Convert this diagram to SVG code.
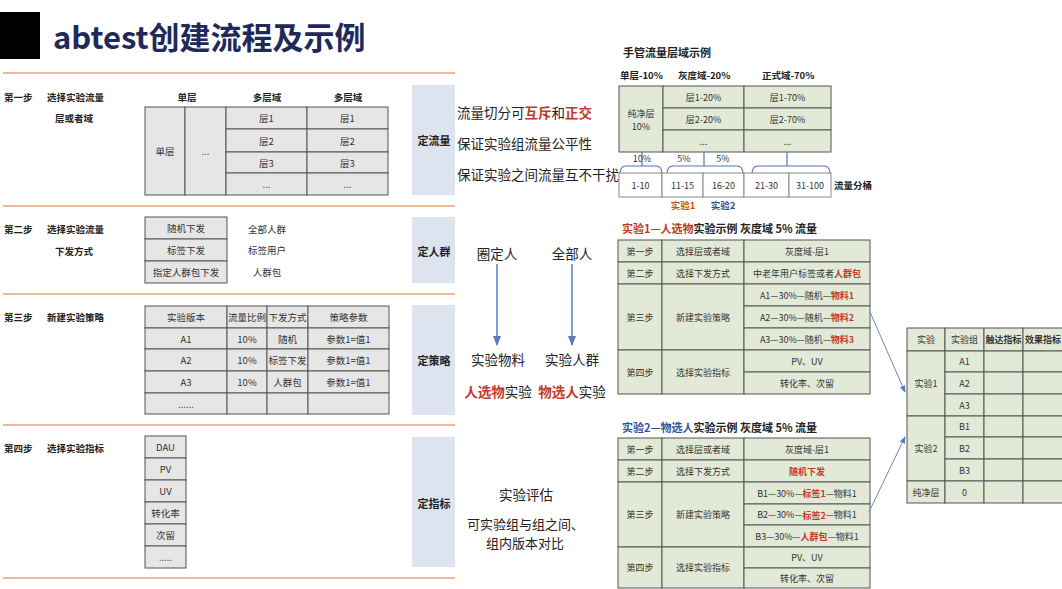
<svg xmlns="http://www.w3.org/2000/svg" width="1062" height="589" viewBox="0 0 1062 589">
<defs>
<style>
text{font-family:"Noto Sans CJK SC","Liberation Sans",sans-serif;dominant-baseline:central}
.c{font-size:9.5px;fill:#333;text-anchor:middle}
.s{font-size:9.5px;fill:#222;font-weight:bold}
.sm{font-size:9.5px;fill:#222;font-weight:bold;text-anchor:middle}
.r{font-size:9px;fill:#333;text-anchor:middle}
.g{fill:#e6e6e6;stroke:#555;stroke-width:1}
.gn{fill:#e2e9d7;stroke:#555;stroke-width:1}
.w{fill:#fff;stroke:#888;stroke-width:1}
.lb{fill:#dde3ef}
.lt{font-size:11px;font-weight:bold;fill:#222;text-anchor:middle}
.m{font-size:13.5px;fill:#222}
.mm{font-size:13.5px;fill:#222;text-anchor:middle}
.red{fill:#c0392b;font-weight:bold}
.hd{font-size:11px;font-weight:bold;fill:#222}
.or{stroke:#e9a27c;stroke-width:1.5}
.br{fill:none;stroke:#5674b4;stroke-width:1.2}
.cn{stroke:#6f86bf;stroke-width:1;fill:none}
</style>
<marker id="ah" viewBox="0 0 10 10" refX="9" refY="5" markerWidth="7" markerHeight="7" orient="auto-start-reverse">
<path d="M0,1 L10,5 L0,9 z" fill="#5b7bbd"/>
</marker>
</defs>
<rect width="1062" height="589" fill="#fff"/>

<g id="title">
<rect x="0" y="12" width="40" height="47" fill="#000"/>
<text x="53" y="35" style="font-size:31px;font-weight:bold;fill:#1f2a5a">abtest创建流程及示例</text>
</g>

<g id="separators">
<line class="or" x1="3" y1="73" x2="455" y2="73"/>
<line class="or" x1="3" y1="206" x2="455" y2="206"/>
<line class="or" x1="3" y1="294" x2="455" y2="294"/>
<line class="or" x1="3" y1="425" x2="455" y2="425"/>
<line class="or" x1="3" y1="578" x2="455" y2="578"/>
</g>

<g id="step1">
<text class="s" x="4" y="97">第一步</text>
<text class="s" x="47" y="97">选择实验流量</text>
<text class="s" x="55" y="118">层或者域</text>
<text class="sm" x="187" y="97">单层</text>
<text class="sm" x="267" y="97">多层域</text>
<text class="sm" x="348" y="97">多层域</text>
<rect class="g" x="145" y="107" width="40" height="88"/>
<rect class="g" x="185" y="107" width="41" height="88"/>
<rect class="g" x="226" y="107" width="81" height="22"/>
<rect class="g" x="226" y="129" width="81" height="23"/>
<rect class="g" x="226" y="152" width="81" height="21"/>
<rect class="g" x="226" y="173" width="81" height="22"/>
<rect class="g" x="307" y="107" width="81" height="22"/>
<rect class="g" x="307" y="129" width="81" height="23"/>
<rect class="g" x="307" y="152" width="81" height="21"/>
<rect class="g" x="307" y="173" width="81" height="22"/>
<text class="c" x="165" y="151">单层</text>
<text class="c" x="205.5" y="151">...</text>
<text class="c" x="266.5" y="118">层1</text>
<text class="c" x="266.5" y="140.5">层2</text>
<text class="c" x="266.5" y="162.5">层3</text>
<text class="c" x="266.5" y="184">...</text>
<text class="c" x="347.5" y="118">层1</text>
<text class="c" x="347.5" y="140.5">层2</text>
<text class="c" x="347.5" y="162.5">层3</text>
<text class="c" x="347.5" y="184">...</text>
</g>

<g id="step2">
<text class="s" x="4" y="229">第二步</text>
<text class="s" x="47" y="229">选择实验流量</text>
<text class="s" x="55" y="251">下发方式</text>
<rect class="g" x="145" y="217" width="82" height="22"/>
<rect class="g" x="145" y="239" width="82" height="22"/>
<rect class="g" x="145" y="261" width="82" height="22"/>
<text class="c" x="186" y="228">随机下发</text>
<text class="c" x="186" y="250">标签下发</text>
<text class="c" x="186" y="272">指定人群包下发</text>
<text class="c" x="267" y="229">全部人群</text>
<text class="c" x="267" y="250">标签用户</text>
<text class="c" x="267" y="272">人群包</text>
</g>

<g id="step3">
<text class="s" x="4" y="317">第三步</text>
<text class="s" x="47" y="317">新建实验策略</text>
<rect class="g" x="145" y="306" width="82" height="22"/><rect class="g" x="227" y="306" width="40" height="22"/><rect class="g" x="267" y="306" width="41" height="22"/><rect class="g" x="308" y="306" width="81" height="22"/>
<rect class="g" x="145" y="328" width="82" height="21"/><rect class="g" x="227" y="328" width="40" height="21"/><rect class="g" x="267" y="328" width="41" height="21"/><rect class="g" x="308" y="328" width="81" height="21"/>
<rect class="g" x="145" y="349" width="82" height="22"/><rect class="g" x="227" y="349" width="40" height="22"/><rect class="g" x="267" y="349" width="41" height="22"/><rect class="g" x="308" y="349" width="81" height="22"/>
<rect class="g" x="145" y="371" width="82" height="22"/><rect class="g" x="227" y="371" width="40" height="22"/><rect class="g" x="267" y="371" width="41" height="22"/><rect class="g" x="308" y="371" width="81" height="22"/>
<rect class="g" x="145" y="393" width="82" height="21"/><rect class="g" x="227" y="393" width="40" height="21"/><rect class="g" x="267" y="393" width="41" height="21"/><rect class="g" x="308" y="393" width="81" height="21"/>
<text class="c" x="186" y="317">实验版本</text><text class="c" x="247" y="317">流量比例</text><text class="c" x="287.5" y="317">下发方式</text><text class="c" x="348.5" y="317">策略参数</text>
<text class="c" x="186" y="338.5">A1</text><text class="c" x="247" y="338.5">10%</text><text class="c" x="287.5" y="338.5">随机</text><text class="c" x="348.5" y="338.5">参数1=值1</text>
<text class="c" x="186" y="360">A2</text><text class="c" x="247" y="360">10%</text><text class="c" x="287.5" y="360">标签下发</text><text class="c" x="348.5" y="360">参数1=值1</text>
<text class="c" x="186" y="382">A3</text><text class="c" x="247" y="382">10%</text><text class="c" x="287.5" y="382">人群包</text><text class="c" x="348.5" y="382">参数1=值1</text>
<text class="c" x="186" y="403.5">......</text>
</g>

<g id="step4">
<text class="s" x="4" y="448">第四步</text>
<text class="s" x="47" y="448">选择实验指标</text>
<rect class="g" x="145" y="436" width="41" height="22"/>
<rect class="g" x="145" y="458" width="41" height="22"/>
<rect class="g" x="145" y="480" width="41" height="22"/>
<rect class="g" x="145" y="502" width="41" height="22"/>
<rect class="g" x="145" y="524" width="41" height="22"/>
<rect class="g" x="145" y="546" width="41" height="22"/>
<text class="c" x="165.5" y="447">DAU</text>
<text class="c" x="165.5" y="469">PV</text>
<text class="c" x="165.5" y="491">UV</text>
<text class="c" x="165.5" y="513">转化率</text>
<text class="c" x="165.5" y="535">次留</text>
<text class="c" x="165.5" y="557">.....</text>
</g>

<g id="label-liuliang">
<rect class="lb" x="412" y="85" width="43" height="110"/>
<text class="lt" x="434" y="140">定流量</text>
</g>
<g id="label-renqun">
<rect class="lb" x="412" y="217" width="43" height="66"/>
<text class="lt" x="434" y="251">定人群</text>
</g>
<g id="label-celue">
<rect class="lb" x="412" y="305" width="43" height="110"/>
<text class="lt" x="434" y="360">定策略</text>
</g>
<g id="label-zhibiao">
<rect class="lb" x="412" y="437" width="43" height="130"/>
<text class="lt" x="434" y="503">定指标</text>
</g>

<g id="notes-liuliang">
<text class="m" x="457" y="112">流量切分可<tspan class="red">互斥</tspan>和<tspan class="red">正交</tspan></text>
<text class="m" x="457" y="143">保证实验组流量公平性</text>
<text class="m" x="457" y="174">保证实验之间流量互不干扰</text>
</g>

<g id="node-quanding"><text class="mm" x="497" y="253">圈定人</text></g>
<g id="node-quanbu"><text class="mm" x="572" y="253">全部人</text></g>
<g id="node-wuliao"><text class="mm" x="498" y="359">实验物料</text>
<text class="mm" x="498" y="391"><tspan class="red">人选物</tspan>实验</text></g>
<g id="node-renqun"><text class="mm" x="572" y="359">实验人群</text>
<text class="mm" x="572" y="391"><tspan class="red">物选人</tspan>实验</text></g>

<g id="notes-zhibiao">
<text class="mm" x="526" y="494">实验评估</text>
<text style="font-size:13px;fill:#222" x="467" y="523">可实验组与组之间、</text>
<text style="font-size:13px;fill:#222" x="486" y="542">组内版本对比</text>
</g>

<g id="layer-example">
<text class="hd" x="623" y="52">手管流量层域示例</text>
<text class="s" x="620" y="75">单层-10%</text>
<text class="s" x="678" y="75">灰度域-20%</text>
<text class="s" x="762" y="75">正式域-70%</text>
<rect class="gn" x="619" y="86" width="44" height="66"/>
<rect class="gn" x="663" y="86" width="81" height="22"/>
<rect class="gn" x="663" y="108" width="81" height="22"/>
<rect class="gn" x="663" y="130" width="81" height="22"/>
<rect class="gn" x="744" y="86" width="87" height="22"/>
<rect class="gn" x="744" y="108" width="87" height="22"/>
<rect class="gn" x="744" y="130" width="87" height="22"/>
<text class="r" x="641" y="113">纯净层</text>
<text class="r" x="641" y="126">10%</text>
<text class="r" x="703.5" y="97">层1-20%</text>
<text class="r" x="703.5" y="119">层2-20%</text>
<text class="r" x="703.5" y="141">...</text>
<text class="r" x="787.5" y="97">层1-70%</text>
<text class="r" x="787.5" y="119">层2-70%</text>
<text class="r" x="787.5" y="141">...</text>
<text class="r" x="642" y="158">10%</text>
<text class="r" x="684" y="158">5%</text>
<text class="r" x="723" y="158">5%</text>
<path class="br" d="M620,174 Q620,166 626,166 L656,166 Q662,166 662,174 M642,166 L642,152"/>
<path class="br" d="M667,174 Q667,166 673,166 L737,166 Q743,166 743,174 M704,166 L704,152"/>
<path class="br" d="M752,174 Q752,166 758,166 L824,166 Q830,166 830,174 M787,166 L787,152"/>
<rect class="w" x="619" y="173" width="43" height="24"/>
<rect class="w" x="662" y="173" width="41" height="24"/>
<rect class="w" x="703" y="173" width="41" height="24"/>
<rect class="w" x="744" y="173" width="45" height="24"/>
<rect class="w" x="789" y="173" width="42" height="24"/>
<text class="r" x="640.5" y="185">1-10</text>
<text class="r" x="682.5" y="185">11-15</text>
<text class="r" x="723.5" y="185">16-20</text>
<text class="r" x="766.5" y="185">21-30</text>
<text class="r" x="810" y="185">31-100</text>
<text class="s" x="834" y="185">流量分桶</text>
<text class="sm" x="683" y="205" style="fill:#c55a11">实验1</text>
<text class="sm" x="723" y="205" style="fill:#2f5597">实验2</text>
</g>

<g id="exp1">
<text class="hd" x="622" y="228"><tspan style="fill:#b8401f">实验1—人选物</tspan>实验示例  灰度域 5% 流量</text>
<rect class="gn" x="618" y="240" width="44" height="22"/><rect class="gn" x="662" y="240" width="82" height="22"/><rect class="gn" x="744" y="240" width="126" height="22"/>
<rect class="gn" x="618" y="262" width="44" height="22"/><rect class="gn" x="662" y="262" width="82" height="22"/><rect class="gn" x="744" y="262" width="126" height="22"/>
<rect class="gn" x="618" y="284" width="44" height="66"/><rect class="gn" x="662" y="284" width="82" height="66"/>
<rect class="gn" x="744" y="284" width="126" height="22"/><rect class="gn" x="744" y="306" width="126" height="22"/><rect class="gn" x="744" y="328" width="126" height="22"/>
<rect class="gn" x="618" y="350" width="44" height="44"/><rect class="gn" x="662" y="350" width="82" height="44"/>
<rect class="gn" x="744" y="350" width="126" height="22"/><rect class="gn" x="744" y="372" width="126" height="22"/>
<text class="r" x="640" y="251">第一步</text><text class="r" x="703" y="251">选择层或者域</text><text class="r" x="807" y="251">灰度域-层1</text>
<text class="r" x="640" y="273">第二步</text><text class="r" x="703" y="273">选择下发方式</text><text class="r" x="807" y="273">中老年用户标签或者<tspan class="red">人群包</tspan></text>
<text class="r" x="640" y="317">第三步</text><text class="r" x="703" y="317">新建实验策略</text>
<text class="r" x="807" y="295">A1—30%—随机—<tspan class="red">物料1</tspan></text>
<text class="r" x="807" y="317">A2—30%—随机—<tspan class="red">物料2</tspan></text>
<text class="r" x="807" y="339">A3—30%—随机—<tspan class="red">物料3</tspan></text>
<text class="r" x="640" y="372">第四步</text><text class="r" x="703" y="372">选择实验指标</text>
<text class="r" x="807" y="361">PV、UV</text><text class="r" x="807" y="383">转化率、次留</text>
</g>

<g id="exp2">
<text class="hd" x="622" y="427"><tspan style="fill:#2f5597">实验2—物选人</tspan>实验示例  灰度域 5% 流量</text>
<rect class="gn" x="618" y="438" width="44" height="22"/><rect class="gn" x="662" y="438" width="82" height="22"/><rect class="gn" x="744" y="438" width="126" height="22"/>
<rect class="gn" x="618" y="460" width="44" height="22"/><rect class="gn" x="662" y="460" width="82" height="22"/><rect class="gn" x="744" y="460" width="126" height="22"/>
<rect class="gn" x="618" y="482" width="44" height="65"/><rect class="gn" x="662" y="482" width="82" height="65"/>
<rect class="gn" x="744" y="482" width="126" height="22"/><rect class="gn" x="744" y="504" width="126" height="21"/><rect class="gn" x="744" y="525" width="126" height="22"/>
<rect class="gn" x="618" y="547" width="44" height="41"/><rect class="gn" x="662" y="547" width="82" height="41"/>
<rect class="gn" x="744" y="547" width="126" height="21"/><rect class="gn" x="744" y="568" width="126" height="20"/>
<text class="r" x="640" y="449">第一步</text><text class="r" x="703" y="449">选择层或者域</text><text class="r" x="807" y="449">灰度域-层1</text>
<text class="r" x="640" y="471">第二步</text><text class="r" x="703" y="471">选择下发方式</text><text class="r red" x="807" y="471">随机下发</text>
<text class="r" x="640" y="514.5">第三步</text><text class="r" x="703" y="514.5">新建实验策略</text>
<text class="r" x="807" y="493">B1—30%—<tspan class="red">标签1</tspan>—物料1</text>
<text class="r" x="807" y="514.5">B2—30%—<tspan class="red">标签2</tspan>—物料1</text>
<text class="r" x="807" y="536">B3—30%—<tspan class="red">人群包</tspan>—物料1</text>
<text class="r" x="640" y="567.5">第四步</text><text class="r" x="703" y="567.5">选择实验指标</text>
<text class="r" x="807" y="557.5">PV、UV</text><text class="r" x="807" y="578">转化率、次留</text>
</g>

<g id="result-table">
<rect class="gn" x="907" y="328" width="38" height="23"/><rect class="gn" x="945" y="328" width="39" height="23"/><rect class="gn" x="984" y="328" width="39" height="23"/><rect class="gn" x="1023" y="328" width="40" height="23"/>
<rect class="gn" x="907" y="351" width="38" height="65"/>
<rect class="gn" x="907" y="416" width="38" height="65"/>
<rect class="gn" x="907" y="481" width="38" height="22"/>
<rect class="gn" x="945" y="351" width="39" height="21"/><rect class="gn" x="984" y="351" width="39" height="21"/><rect class="gn" x="1023" y="351" width="40" height="21"/>
<rect class="gn" x="945" y="372" width="39" height="22"/><rect class="gn" x="984" y="372" width="39" height="22"/><rect class="gn" x="1023" y="372" width="40" height="22"/>
<rect class="gn" x="945" y="394" width="39" height="22"/><rect class="gn" x="984" y="394" width="39" height="22"/><rect class="gn" x="1023" y="394" width="40" height="22"/>
<rect class="gn" x="945" y="416" width="39" height="21"/><rect class="gn" x="984" y="416" width="39" height="21"/><rect class="gn" x="1023" y="416" width="40" height="21"/>
<rect class="gn" x="945" y="437" width="39" height="22"/><rect class="gn" x="984" y="437" width="39" height="22"/><rect class="gn" x="1023" y="437" width="40" height="22"/>
<rect class="gn" x="945" y="459" width="39" height="22"/><rect class="gn" x="984" y="459" width="39" height="22"/><rect class="gn" x="1023" y="459" width="40" height="22"/>
<rect class="gn" x="945" y="481" width="39" height="22"/><rect class="gn" x="984" y="481" width="39" height="22"/><rect class="gn" x="1023" y="481" width="40" height="22"/>
<text class="r" x="926" y="339.5">实验</text><text class="r" x="964.5" y="339.5">实验组</text><text class="r" x="1003.5" y="339.5" style="font-weight:bold">触达指标</text><text class="r" x="1043" y="339.5" style="font-weight:bold">效果指标</text>
<text class="r" x="926" y="383">实验1</text>
<text class="r" x="964.5" y="361.5">A1</text><text class="r" x="964.5" y="383">A2</text><text class="r" x="964.5" y="405">A3</text>
<text class="r" x="926" y="448">实验2</text>
<text class="r" x="964.5" y="426.5">B1</text><text class="r" x="964.5" y="448">B2</text><text class="r" x="964.5" y="470">B3</text>
<text class="r" x="926" y="492">纯净层</text><text class="r" x="964.5" y="492">0</text>
</g>

<g id="connectors">
<line x1="497" y1="264" x2="497" y2="345" stroke="#5b7bbd" stroke-width="1.5" marker-end="url(#ah)"/>
<line x1="572" y1="264" x2="572" y2="345" stroke="#5b7bbd" stroke-width="1.5" marker-end="url(#ah)"/>
<line class="cn" x1="870" y1="312" x2="905" y2="392" marker-end="url(#ah)"/>
<line class="cn" x1="869" y1="512" x2="905" y2="437" marker-end="url(#ah)"/>
</g>
</svg>
